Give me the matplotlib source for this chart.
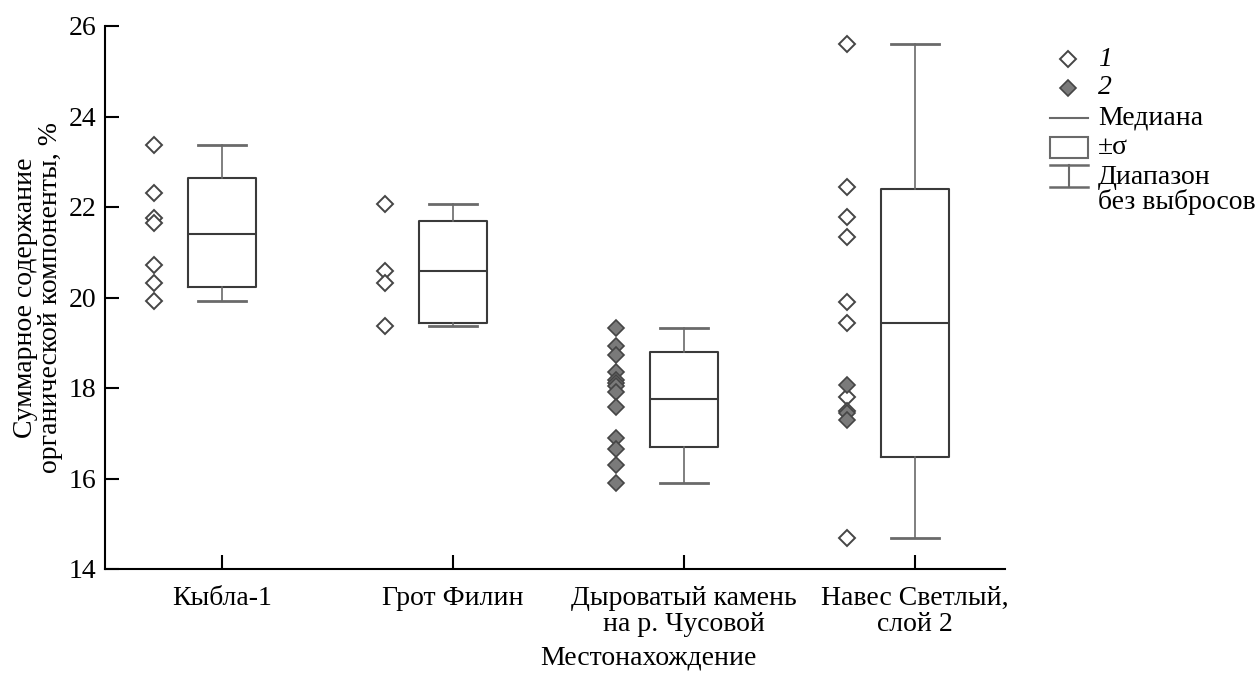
import matplotlib
matplotlib.use("Agg")
import matplotlib.pyplot as plt
from matplotlib.lines import Line2D
from matplotlib.patches import Rectangle
import numpy as np

plt.rcParams['font.family'] = ['Liberation Serif', 'DejaVu Serif']

# ---------------- data ----------------
categories = ["Кыбла-1", "Грот Филин", "Дыроватый камень\nна р. Чусовой", "Навес Светлый,\nслой 2"]

# individual samples, group 1 (open) and group 2 (filled) per site
kybla_g1 = [23.37, 22.32, 21.75, 21.64, 20.72, 20.31, 19.92]
filin_g1 = [22.07, 20.59, 20.31, 19.38]
dyr_g2 = [19.33, 18.93, 18.74, 18.36, 18.18, 18.10, 18.04, 17.92, 17.59, 16.89, 16.65, 16.30, 15.89]
navess_g1 = [25.60, 22.45, 21.77, 21.34, 19.91, 19.43, 17.81, 17.50, 14.68]
navess_g2 = [18.07, 17.45, 17.29]

group1 = [kybla_g1, filin_g1, [], navess_g1]
group2 = [[], [], dyr_g2, navess_g2]

# box statistics
box_mid = [21.41, 20.59, 17.75, 19.43]
box_lo = [20.23, 19.44, 16.70, 16.47]
box_hi = [22.63, 21.68, 18.80, 22.39]
whisk_lo = [19.92, 19.38, 15.89, 14.68]
whisk_hi = [23.37, 22.07, 19.33, 25.60]

yticks = [14, 16, 18, 20, 22, 24, 26]

# ---------------- figure ----------------
W, H = 1255, 675
fig = plt.figure(figsize=(W / 100, H / 100), dpi=100)
ax = fig.add_axes([105 / W, 1 - 569 / H, (1005 - 105) / W, (569 - 26) / H])

FS = 20
box_col = '#3a3a3a'
wh_col = '#6a6a6a'
pos = np.arange(len(categories))

stats = []
for i in range(len(categories)):
    stats.append(dict(med=box_mid[i], q1=box_lo[i], q3=box_hi[i],
                      whislo=whisk_lo[i], whishi=whisk_hi[i], fliers=[]))
ax.bxp(stats, positions=pos, widths=0.292, capwidths=0.207, showfliers=False,
       boxprops=dict(color=box_col, linewidth=1.5),
       medianprops=dict(color=box_col, linewidth=1.5),
       whiskerprops=dict(color=wh_col, linewidth=1.2),
       capprops=dict(color=wh_col, linewidth=2.0))

off = -0.295
for i in range(len(categories)):
    if group1[i]:
        ax.plot(np.full(len(group1[i]), pos[i] + off), group1[i], linestyle='none',
                marker='D', ms=8, mfc='white', mec='#454545', mew=1.4)
    if group2[i]:
        ax.plot(np.full(len(group2[i]), pos[i] + off), group2[i], linestyle='none',
                marker='D', ms=8, mfc='#7a7a7a', mec='#454545', mew=1.2)

ax.set_xlim(-0.507, 3.39)
ax.set_ylim(14, 26)
ax.set_yticks(yticks)
ax.set_yticklabels([str(t) for t in yticks], fontsize=FS)
ax.set_xticks(pos)
ax.set_xticklabels(categories, fontsize=FS, linespacing=1.05)
ax.tick_params(axis='both', direction='in', length=10, width=1.5, color='black')
ax.tick_params(axis='x', pad=12)
ax.tick_params(axis='y', pad=6)
for s in ['top', 'right']:
    ax.spines[s].set_visible(False)
for s in ['left', 'bottom']:
    ax.spines[s].set_linewidth(1.5)
    ax.spines[s].set_color('black')

ax.set_xlabel("Местонахождение", fontsize=FS)
ax.xaxis.set_label_coords((648 - 105) / 900, -(658 - 569) / 543, transform=ax.transAxes)
ax.xaxis.label.set_verticalalignment('center')
ax.set_ylabel("Суммарное содержание\nорганической компоненты, %", fontsize=FS,
              linespacing=1.0, labelpad=4)

# ---------------- legend (drawn in figure pixel coords) ----------------
def fx(x):
    return x / W

def fy(y):
    return 1 - y / H

tf = fig.transFigure
fig.add_artist(Line2D([fx(1068)], [fy(59)], transform=tf, linestyle='none', marker='D',
                      ms=8, mfc='white', mec='#454545', mew=1.4))
fig.add_artist(Line2D([fx(1068)], [fy(88)], transform=tf, linestyle='none', marker='D',
                      ms=8, mfc='#7a7a7a', mec='#454545', mew=1.2))
fig.add_artist(Line2D([fx(1050), fx(1088)], [fy(118), fy(118)], transform=tf,
                      color=wh_col, lw=1.5))
fig.add_artist(Rectangle((fx(1050), fy(158)), fx(38), 21 / H, transform=tf,
                         fill=False, edgecolor=wh_col, lw=1.5))
fig.add_artist(Line2D([fx(1050), fx(1088)], [fy(165), fy(165)], transform=tf,
                      color=wh_col, lw=1.8))
fig.add_artist(Line2D([fx(1050), fx(1088)], [fy(187), fy(187)], transform=tf,
                      color=wh_col, lw=1.8))
fig.add_artist(Line2D([fx(1069), fx(1069)], [fy(165), fy(187)], transform=tf,
                      color=wh_col, lw=1.5))

fig.text(fx(1098), fy(59), "1", fontsize=FS, style='italic', va='center', ha='left')
fig.text(fx(1098), fy(88), "2", fontsize=FS, style='italic', va='center', ha='left')
fig.text(fx(1098), fy(118), "Медиана", fontsize=FS, va='center', ha='left')
fig.text(fx(1098), fy(148), "±σ", fontsize=FS, va='center', ha='left')
fig.text(fx(1098), fy(177), "Диапазон", fontsize=FS, va='center', ha='left')
fig.text(fx(1098), fy(202), "без выбросов", fontsize=FS, va='center', ha='left')

fig.savefig("out.png", dpi=100)
